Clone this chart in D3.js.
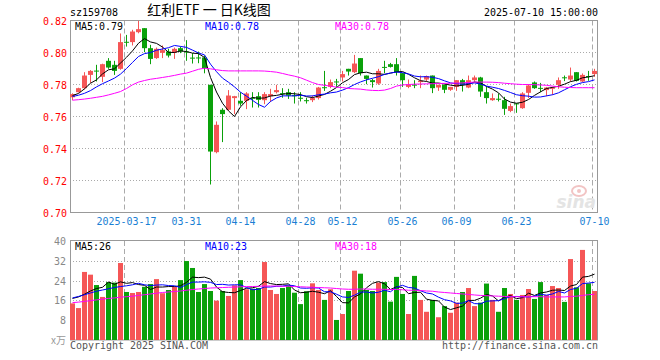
<!DOCTYPE html>
<html><head><meta charset="utf-8">
<script src="https://cdn.jsdelivr.net/npm/d3@7/dist/d3.min.js"></script>
<style>body{margin:0;background:#fff}svg{display:block}</style>
</head><body>
<svg id="c" width="660" height="360"></svg>
<script>
// ---------- data ----------
const dates = ["03-04","03-05","03-06","03-07","03-10","03-11","03-12","03-13","03-14","03-17",
"03-18","03-19","03-20","03-21","03-24","03-25","03-26","03-27","03-28","03-31",
"04-01","04-02","04-03","04-07","04-08","04-09","04-10","04-11","04-14",
"04-15","04-16","04-17","04-18","04-21","04-22","04-23","04-24","04-25","04-28","04-29","04-30",
"05-06","05-07","05-08","05-09","05-12","05-13","05-14","05-15","05-16","05-19","05-20","05-21","05-22","05-23","05-26",
"05-27","05-28","05-29","05-30","06-03","06-04","06-05","06-06","06-09",
"06-10","06-11","06-12","06-13","06-16","06-17","06-18","06-19","06-20","06-23",
"06-24","06-25","06-26","06-27","06-30","07-01","07-02","07-03","07-04","07-07","07-08","07-09","07-10"];
const tickDates  = ["03-17","03-31","04-14","04-28","05-12","05-26","06-09","06-23","07-10"];
const tickLabels = ["2025-03-17","03-31","04-14","04-28","05-12","05-26","06-09","06-23","07-10"];
const priceTicks = [0.70,0.72,0.74,0.76,0.78,0.80,0.82];
const volTicks = [8,16,24,32,40];

const opens = [.7720,.7752,.7777,.7860,.7887,.7848,.7948,.7923,.7898,.8067,
.8065,.8127,.8152,.8027,.7965,.7998,.8006,.7998,.8027,.8006,
.7968,.7969,.7969,.7798,.7377,.7642,.7642,.7715,.7698,.7698,
.7717,.7727,.7702,.7727,.7752,.7746,.7752,.7733,.7717,.7702,
.7702,.7715,.7783,.7785,.7819,.7844,.7898,.7877,.7965,.7856,
.7827,.7806,.7910,.7927,.7927,.7871,.7785,.7799,.7815,.7831,
.7856,.7781,.7798,.7767,.7785,.7827,.7781,.7827,.7844,.7752,
.7702,.7711,.7702,.7635,.7682,.7652,.7748,.7813,.7779,.7765,
.7773,.7798,.7845,.7831,.7877,.7819,.7853,.7865];
const closes = [.7740,.7777,.7856,.7885,.7885,.7927,.7906,.7885,.8065,.8065,
.8131,.8146,.8027,.7960,.8023,.8015,.7981,.8023,.8006,.8004,
.7966,.7967,.7902,.7381,.7548,.7615,.7731,.7727,.7681,.7744,
.7712,.7704,.7740,.7740,.7765,.7744,.7731,.7731,.7713,.7700,
.7715,.7781,.7779,.7815,.7817,.7865,.7881,.7931,.7871,.7835,
.7815,.7885,.7908,.7910,.7877,.7827,.7798,.7797,.7823,.7852,
.7777,.7798,.7767,.7785,.7827,.7798,.7827,.7844,.7756,.7715,
.7715,.7709,.7648,.7665,.7680,.7744,.7794,.7777,.7777,.7781,
.7781,.7827,.7843,.7856,.7823,.7860,.7851,.7885];
const highs = [.7745,.7780,.7877,.7890,.7923,.7930,.7965,.7948,.8119,.8110,
.8142,.8198,.8152,.8048,.8031,.8044,.8023,.8031,.8037,.8077,
.7996,.8006,.7981,.7798,.7569,.7652,.7765,.7729,.7752,.7752,
.7752,.7752,.7752,.7773,.7798,.7777,.7773,.7752,.7752,.7717,
.7731,.7785,.7885,.7831,.7835,.7885,.7898,.7985,.7965,.7856,
.7835,.7898,.7948,.7935,.7965,.7871,.7831,.7827,.7856,.7856,
.7856,.7798,.7798,.7785,.7827,.7835,.7856,.7856,.7848,.7790,
.7744,.7744,.7723,.7681,.7682,.7752,.7802,.7819,.7810,.7785,
.7785,.7844,.7856,.7906,.7877,.7869,.7885,.7898];
const lows = [.7702,.7750,.7770,.7810,.7819,.7815,.7898,.7860,.7892,.8037,
.8044,.8120,.8002,.7927,.7960,.7965,.7969,.7960,.7996,.7948,
.7931,.7933,.7870,.7175,.7370,.7440,.7637,.7615,.7667,.7646,
.7656,.7656,.7677,.7690,.7744,.7717,.7710,.7681,.7694,.7681,
.7690,.7706,.7760,.7777,.7785,.7819,.7856,.7871,.7856,.7802,
.7781,.7798,.7870,.7906,.7856,.7785,.7777,.7777,.7777,.7819,
.7746,.7760,.7746,.7760,.7760,.7756,.7777,.7819,.7723,.7681,
.7698,.7694,.7610,.7627,.7623,.7648,.7715,.7773,.7752,.7727,
.7735,.7773,.7821,.7819,.7819,.7815,.7823,.7848];
const volumes = [14.8,12.9,27.5,26.4,22.2,17.4,23.4,23.2,31.1,19.4,
19.0,19.4,21.5,22.6,24.6,18.9,20.2,21.5,24.2,31.9,
29.1,19.4,22.6,19.8,15.9,19.8,17.8,22.1,24.2,20.5,
20.7,21.0,31.5,20.2,18.6,21.0,22.1,19.1,14.5,19.7,
22.9,20.2,16.2,20.5,8.1,10.5,19.8,28.0,26.8,20.2,
19.8,23.2,23.4,15.5,25.5,18.6,10.5,25.9,16.2,11.4,
16.2,9.2,13.7,11.0,15.1,19.4,21.0,13.7,15.1,22.8,
16.2,11.4,21.0,18.6,16.2,18.2,20.6,16.6,23.4,18.2,
21.8,21.0,15.4,32.7,21.3,36.4,22.9,19.8];
const ma5 = [.7731,.7744,.7773,.7808,.7829,.7866,.7892,.7898,.7934,.7970,
.8010,.8058,.8087,.8066,.8057,.8034,.8001,.8000,.8010,.8006,
.7996,.7993,.7969,.7844,.7753,.7683,.7635,.7600,.7660,.7700,
.7719,.7714,.7716,.7728,.7732,.7739,.7744,.7742,.7737,.7724,
.7718,.7728,.7738,.7758,.7781,.7811,.7831,.7862,.7873,.7877,
.7867,.7867,.7863,.7871,.7879,.7881,.7864,.7842,.7824,.7819,
.7809,.7809,.7803,.7796,.7791,.7795,.7801,.7816,.7810,.7788,
.7771,.7748,.7709,.7690,.7683,.7689,.7706,.7732,.7754,.7775,
.7782,.7789,.7802,.7818,.7826,.7842,.7847,.7855];
const ma10 = [.7725,.7733,.7745,.7762,.7785,.7805,.7822,.7840,.7865,.7900,
.7938,.7975,.7993,.8000,.8014,.8022,.8030,.8044,.8038,.8032,
.8015,.7997,.7985,.7927,.7880,.7840,.7814,.7785,.7752,.7727,
.7701,.7675,.7658,.7694,.7716,.7729,.7729,.7729,.7733,.7728,
.7729,.7736,.7740,.7748,.7753,.7765,.7780,.7800,.7816,.7829,
.7839,.7849,.7863,.7872,.7878,.7874,.7866,.7853,.7848,.7849,
.7845,.7837,.7823,.7810,.7805,.7802,.7805,.7810,.7803,.7790,
.7783,.7775,.7763,.7750,.7736,.7730,.7727,.7721,.7722,.7729,
.7736,.7748,.7767,.7786,.7801,.7812,.7818,.7829];
const ma30 = [.7702,.7705,.7709,.7714,.7720,.7726,.7735,.7745,.7756,.7775,
.7798,.7815,.7825,.7833,.7838,.7844,.7850,.7857,.7865,.7871,
.7883,.7895,.7902,.7898,.7892,.7887,.7885,.7885,.7885,.7885,
.7885,.7885,.7884,.7881,.7877,.7869,.7860,.7852,.7842,.7827,
.7812,.7800,.7795,.7790,.7783,.7781,.7775,.7773,.7771,.7766,
.7763,.7762,.7765,.7775,.7790,.7797,.7800,.7802,.7803,.7804,
.7805,.7806,.7807,.7808,.7809,.7810,.7813,.7815,.7815,.7815,
.7814,.7812,.7808,.7805,.7802,.7800,.7800,.7799,.7797,.7795,
.7790,.7786,.7783,.7781,.7780,.7780,.7780,.7780];
const volMa5 = [16.8,17.4,18.5,19.8,20.8,21.3,23.4,22.5,23.5,22.9,
23.2,22.4,22.1,20.4,21.4,21.4,21.6,21.6,21.9,23.3,
25.4,25.2,25.4,24.6,21.4,19.5,19.2,19.1,20.0,20.9,
21.1,21.7,23.6,22.8,22.4,22.5,22.7,20.2,19.1,19.3,
19.7,19.3,18.7,19.9,17.6,15.1,15.0,17.4,18.6,21.1,
22.9,23.6,22.7,20.4,21.5,21.2,18.7,19.2,19.3,16.5,
16.0,15.8,13.3,12.3,13.0,13.7,16.0,16.0,16.9,18.4,
17.8,15.8,17.3,18.0,16.7,17.1,18.9,18.0,19.0,19.4,
20.1,20.2,20.0,21.8,22.4,25.4,25.7,26.6];
const volMa10 = [17.0,17.6,18.3,19.0,19.7,20.2,20.7,21.2,21.6,21.9,
22.3,22.9,22.3,22.0,22.2,22.3,22.0,21.9,21.2,22.4,
23.4,23.4,23.5,23.3,22.4,22.5,22.2,22.3,22.3,21.2,
20.3,20.5,21.4,21.4,21.7,21.8,22.2,21.9,21.0,20.9,
21.1,21.0,19.5,19.5,18.5,17.4,17.2,18.1,19.3,19.4,
19.0,19.3,20.1,19.5,21.3,22.1,21.2,21.0,19.9,19.0,
18.6,17.3,16.3,15.8,14.8,14.9,15.9,14.7,14.6,15.7,
15.8,15.9,16.7,17.5,17.6,17.5,17.4,17.7,18.5,18.1,
18.6,19.6,19.0,20.4,20.9,22.8,23.0,23.3];
const volMa30 = [15.1,15.3,15.6,15.9,16.2,16.5,16.8,17.0,17.3,17.5,
17.7,18.0,18.3,18.6,18.9,19.2,19.4,19.6,19.8,20.1,
20.4,20.6,20.8,21.0,21.1,21.2,21.3,21.4,21.5,21.6,
21.6,21.7,21.8,21.8,21.8,21.7,21.7,21.6,21.5,21.4,
21.3,21.2,21.1,21.0,20.8,20.6,20.5,20.5,20.6,20.6,
20.5,20.5,20.5,20.4,20.4,20.3,20.1,20.1,20.0,19.8,
19.7,19.4,19.2,19.0,18.8,18.6,18.4,18.2,18.0,17.9,
17.8,17.7,17.6,17.5,17.5,17.5,17.5,17.5,17.5,17.4,
17.4,17.4,17.4,17.6,17.7,18.0,18.3,18.5];

// ---------- drawing ----------
const UP = "#f55656", DOWN = "#0aa10a";
const MONO = "'DejaVu Sans Mono', monospace";
const svg = d3.select("#c");
const L = 70, R = 598, PT = 20.5, PB = 212.5, VT = 241, VB = 340;

const x = d3.scaleBand().domain(dates).range([L, R]).paddingInner(0).paddingOuter(0);
const cx = d => x(d) + 2.5;
const y = d3.scaleLinear().domain([0.70, 0.82]).range([PB, PT]);
const yv = d3.scaleLinear().domain([0, 40]).range([VB, VT]);

function mono(g, str, px, py, anchor, color, size) {
  return g.append("text").attr("x", px).attr("y", py)
    .attr("text-anchor", anchor || "start").attr("fill", color || "#000")
    .style("font-family", MONO).style("font-size", (size || 11) + "px")
    .attr("textLength", str.length * 6).attr("lengthAdjust", "spacingAndGlyphs")
    .text(str);
}

// header
mono(svg, "sz159708", 70, 16, "start", "#000");
svg.append("text").attr("x", 209).attr("y", 15).attr("text-anchor", "middle").attr("fill", "#000")
  .style("font-family", "'Noto Sans CJK SC', sans-serif").style("font-size", "14px")
  .text("红利ETF 一 日K线图");
mono(svg, "2025-07-10 15:00:00", 598, 16, "end", "#000");

// grids
const grid = svg.append("g");
grid.selectAll(".hp").data(priceTicks.filter(t => t > 0.70 && t < 0.82)).join("line")
  .attr("x1", L).attr("x2", R).attr("y1", d => Math.round(y(d)) + 0.5).attr("y2", d => Math.round(y(d)) + 0.5)
  .attr("stroke", "#aaa").attr("stroke-dasharray", "1,2");
grid.selectAll(".hv").data(volTicks.filter(t => t < 40)).join("line")
  .attr("x1", L).attr("x2", R).attr("y1", d => Math.round(yv(d)) + 0.5).attr("y2", d => Math.round(yv(d)) + 0.5)
  .attr("stroke", "#aaa").attr("stroke-dasharray", "1,2");
tickDates.forEach(td => {
  const xx = x(td) + 0.5;
  grid.append("line").attr("x1", xx).attr("x2", xx).attr("y1", PT).attr("y2", PB)
    .attr("stroke", "#aaa").attr("stroke-dasharray", "5,3");
  grid.append("line").attr("x1", xx).attr("x2", xx).attr("y1", VT).attr("y2", VB)
    .attr("stroke", "#aaa").attr("stroke-dasharray", "5,3");
});

// sina watermark
const wm = svg.append("g");
wm.append("ellipse").attr("cx", 579).attr("cy", 191).attr("rx", 7).attr("ry", 5).attr("fill", "none").attr("stroke", "#f2c4c4").attr("stroke-width", 2);
wm.append("circle").attr("cx", 579).attr("cy", 191).attr("r", 2).attr("fill", "#f2c4c4");
wm.append("text").attr("x", 596).attr("y", 208).attr("text-anchor", "end")
  .style("font-family", "'DejaVu Sans', sans-serif").style("font-size", "17px")
  .style("font-style", "italic").style("font-weight", "bold").attr("fill", "#e4e4e4").text("sina");

// borders
svg.append("rect").attr("x", L + 0.5).attr("y", PT).attr("width", R - L - 1).attr("height", PB - PT)
  .attr("fill", "none").attr("stroke", "#999");
svg.append("rect").attr("x", L + 0.5).attr("y", VT - 0.5).attr("width", R - L - 1).attr("height", VB - VT + 0.5)
  .attr("fill", "none").attr("stroke", "#999");

// price axis labels
priceTicks.forEach(t => mono(svg, t.toFixed(2), 67, y(t) + 4, "end", "#f00"));
// volume axis labels
volTicks.forEach(t => mono(svg, String(t), 66, yv(t) + 4, "end", "#888"));
svg.append("text").attr("x", 66).attr("y", 344).attr("text-anchor", "end").attr("fill", "#999")
  .style("font-family", "'Noto Sans CJK SC', sans-serif").style("font-size", "10px").text("x万");

// date labels
tickDates.forEach((td, k) => mono(svg, tickLabels[k], cx(td), 225, "middle", "#1a7fd4"));

// candles
const candles = svg.append("g");
dates.forEach((d, i) => {
  const up = closes[i] >= opens[i];
  const col = up ? UP : DOWN;
  candles.append("line").attr("x1", cx(d)).attr("x2", cx(d))
    .attr("y1", y(highs[i])).attr("y2", y(lows[i])).attr("stroke", col).attr("stroke-width", 1);
  const top = y(Math.max(opens[i], closes[i])), bot = y(Math.min(opens[i], closes[i]));
  candles.append("rect").attr("x", x(d)).attr("width", 5)
    .attr("y", top).attr("height", Math.max(1, bot - top)).attr("fill", col);
});

// volume bars
svg.append("g").selectAll("rect").data(dates).join("rect")
  .attr("x", d => x(d)).attr("width", 5)
  .attr("y", (d, i) => yv(volumes[i])).attr("height", (d, i) => VB - yv(volumes[i]))
  .attr("fill", (d, i) => closes[i] >= opens[i] ? UP : DOWN);

// MA lines
const lineP = d3.line().x((v, i) => cx(dates[i])).y(v => y(v));
const lineV = d3.line().x((v, i) => cx(dates[i])).y(v => yv(v));
[[ma5, "#000"], [ma10, "#0000ff"], [ma30, "#ff00ff"]].forEach(([arr, c]) =>
  svg.append("path").attr("d", lineP(arr)).attr("fill", "none").attr("stroke", c).attr("stroke-width", 1));
[[volMa5, "#000"], [volMa10, "#0000ff"], [volMa30, "#ff00ff"]].forEach(([arr, c]) =>
  svg.append("path").attr("d", lineV(arr)).attr("fill", "none").attr("stroke", c).attr("stroke-width", 1));

// MA legends
const last = a => a[a.length - 1];
mono(svg, "MA5:" + last(ma5).toFixed(2), 75, 30, "start", "#000");
mono(svg, "MA10:" + last(ma10).toFixed(2), 205, 30, "start", "#0000ff");
mono(svg, "MA30:" + last(ma30).toFixed(2), 335, 30, "start", "#ff00ff");
mono(svg, "MA5:" + Math.floor(last(volMa5)), 75, 250, "start", "#000");
mono(svg, "MA10:" + Math.floor(last(volMa10)), 205, 250, "start", "#0000ff");
mono(svg, "MA30:" + Math.floor(last(volMa30)), 335, 250, "start", "#ff00ff");

// footer
mono(svg, "Copyright 2025 SINA.COM", 70, 349, "start", "#555");
mono(svg, "http://finance.sina.com.cn", 598, 349, "end", "#555");
</script>
</body></html>
